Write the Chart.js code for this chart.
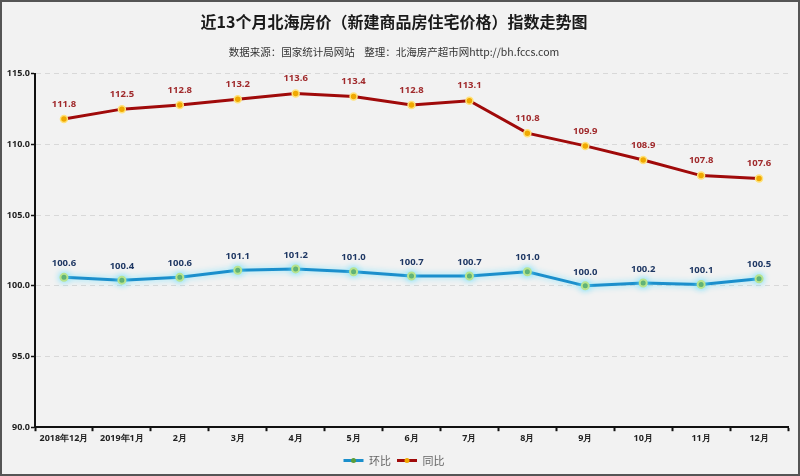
<!DOCTYPE html>
<html>
<head>
<meta charset="utf-8">
<script src="https://cdn.jsdelivr.net/npm/chart.js@4.4.1/dist/chart.umd.min.js"></script>
<style>
html,body{margin:0;padding:0;background:#f2f2f2;}
#wrap{width:800px;height:476px;position:relative;}
</style>
</head>
<body>
<div id="wrap"><canvas id="c" width="800" height="476"></canvas></div>
<script>
const categories = ['2018年12月','2019年1月','2月','3月','4月','5月','6月','7月','8月','9月','10月','11月','12月'];
const huanbi = [100.6,100.4,100.6,101.1,101.2,101.0,100.7,100.7,101.0,100.0,100.2,100.1,100.5];
const tongbi = [111.8,112.5,112.8,113.2,113.6,113.4,112.8,113.1,110.8,109.9,108.9,107.8,107.6];
const yTicks = [90,95,100,105,110,115];
const titleText = '近13个月北海房价（新建商品房住宅价格）指数走势图';
const subtitleText = '数据来源：国家统计局网站    整理：北海房产超市网http://bh.fccs.com';

const numFont = {family:'"Open Sans", "Liberation Sans", sans-serif', size:9.5, weight:'bold'};
const axisFont = {family:'"Open Sans", "Liberation Sans", sans-serif', size:9, weight:'bold'};

const bgBorder = {
  id:'bgBorder',
  beforeDraw(chart){
    const c = chart.ctx;
    c.save(); c.fillStyle='#f2f2f2'; c.fillRect(0,0,chart.width,chart.height); c.restore();
  },
  afterDraw(chart){
    const c = chart.ctx;
    c.save(); c.strokeStyle='#555'; c.lineWidth=2; c.strokeRect(1,1,chart.width-2,chart.height-2); c.restore();
    const lg = chart.legend;
    if (lg && lg.legendHitBoxes) {
      lg.legendHitBoxes.forEach((hb,i)=>{
        const ds = chart.data.datasets[i];
        const bw = lg.options.labels.boxWidth;
        c.save();
        c.beginPath();
        c.arc(hb.left + bw/2, hb.top + hb.height/2, 2.5, 0, Math.PI*2);
        c.fillStyle = ds.pointBackgroundColor;
        c.fill();
        c.restore();
      });
    }
  }
};

const glow = {
  id:'glow',
  beforeDatasetDraw(chart,args){
    if (args.index===0){
      const c=chart.ctx; c.save();
      c.shadowColor='rgba(110,225,255,0.9)'; c.shadowBlur=6;
    }
  },
  afterDatasetDraw(chart,args){
    if (args.index===0){ chart.ctx.restore(); }
  }
};

const labelsPlugin = {
  id:'valueLabels',
  afterDatasetsDraw(chart){
    const c = chart.ctx;
    chart.data.datasets.forEach((ds,di)=>{
      const meta = chart.getDatasetMeta(di);
      c.save();
      c.font = `${numFont.weight} ${numFont.size}px ${numFont.family}`;
      c.fillStyle = ds.labelColor;
      c.textAlign='center'; c.textBaseline='middle';
      meta.data.forEach((pt,i)=>{
        c.fillText(ds.data[i].toFixed(1), pt.x, pt.y - ds.labelOffset);
      });
      c.restore();
    });
  }
};

new Chart(document.getElementById('c'), {
  type:'line',
  data:{
    labels:categories,
    datasets:[
      {label:'环比', data:huanbi, borderColor:'#1b8fcc', backgroundColor:'#1b8fcc', borderWidth:3,
       pointBackgroundColor:'#5a9e3a', pointBorderColor:'#b8e48e', pointBorderWidth:2, pointRadius:3.5,
       tension:0, labelColor:'#1f3864', labelOffset:14},
      {label:'同比', data:tongbi, borderColor:'#a00a0a', backgroundColor:'#a00a0a', borderWidth:3,
       pointBackgroundColor:'#f0a800', pointBorderColor:'#ffe27a', pointBorderWidth:1.5, pointRadius:3.5,
       tension:0, labelColor:'#a02a2c', labelOffset:15}
    ]
  },
  options:{
    responsive:false, animation:false,
    layout:{padding:{left:0,right:12,top:0,bottom:0}},
    plugins:{
      title:{display:true, text:titleText, color:'#1a1a1a',
        font:{family:'"Noto Sans CJK SC", sans-serif', size:16, weight:'bold'}, padding:{top:12,bottom:15}},
      subtitle:{display:true, text:subtitleText, color:'#333',
        font:{family:'"Noto Sans CJK SC", sans-serif', size:10.5, weight:'normal'}, padding:{top:0,bottom:15}},
      legend:{position:'bottom',
        labels:{boxWidth:20, boxHeight:3, padding:6, color:'#666',
          font:{family:'"Noto Sans CJK SC", sans-serif', size:11},
          generateLabels(chart){
            return chart.data.datasets.map((ds,i)=>({text:ds.label, fillStyle:ds.borderColor, strokeStyle:ds.borderColor, lineWidth:0, datasetIndex:i, fontColor:'#666'}));
          }}},
      tooltip:{enabled:false}
    },
    scales:{
      x:{offset:true,
        grid:{display:true, drawOnChartArea:false, drawTicks:true, tickLength:4, offset:true, tickColor:'#111', tickWidth:2},
        border:{display:true, color:'#111', width:2},
        ticks:{color:'#222', font:axisFont, padding:2, maxRotation:0, autoSkip:false},
        afterFit(s){ s.height = 21.8; }
      },
      y:{min:90, max:115,
        afterBuildTicks(s){ s.ticks = yTicks.map(v=>({value:v})); },
        grid:{color:'#d8d8d8', drawTicks:true, tickLength:4, tickColor:'#111', tickWidth:1.5, tickBorderDash:[]},
        border:{display:true, color:'#111', width:2, dash:[5,4]},
        ticks:{color:'#222', font:axisFont, padding:1, callback:(v)=>Number(v).toFixed(1)},
        afterFit(s){ s.width = 35; }
      }
    }
  },
  plugins:[bgBorder, glow, labelsPlugin]
});
</script>
</body>
</html>
